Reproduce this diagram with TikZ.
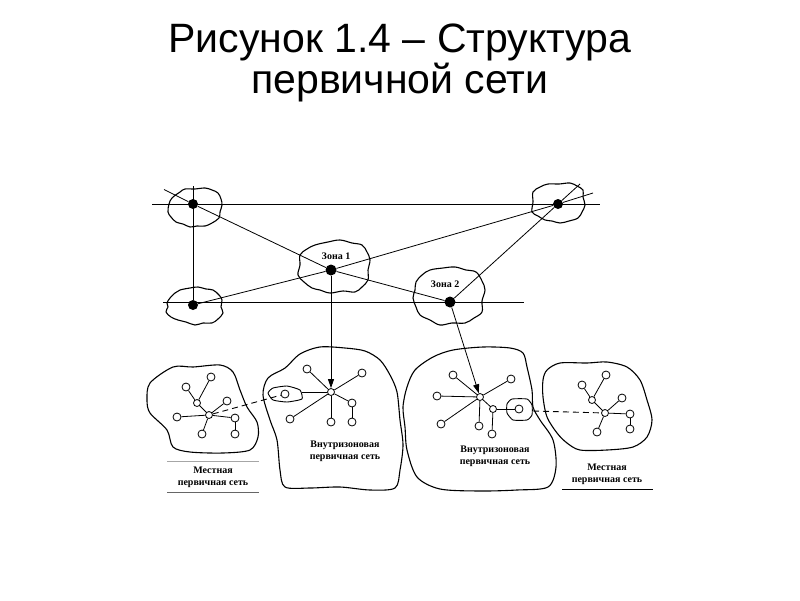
\documentclass[tikz,border=0pt]{standalone}
\usepackage{fontspec}
\setmainfont{Liberation Serif}
\newfontfamily\titlefont{Liberation Sans}
\usetikzlibrary{arrows.meta}
\begin{document}
\begin{tikzpicture}[x=1pt,y=-1pt,
  blob/.style={draw=black, line width=1.1pt, line join=round},
  bigdot/.style={circle, fill=black, inner sep=0pt, minimum size=10pt},
  leaf/.style={circle, draw=black, fill=white, line width=0.8pt, inner sep=0pt, minimum size=8pt},
  hub/.style={circle, draw=black, fill=white, line width=0.8pt, inner sep=0pt, minimum size=7pt},
  link/.style={line width=0.8pt},
  hline/.style={line width=0.9pt},
  dlink/.style={line width=0.9pt, dash pattern=on 6pt off 4pt},
  arr/.style={line width=0.8pt, -{Triangle[length=9pt,width=6pt]}},
  lbl/.style={font=\fontsize{10}{12.5}\selectfont\bfseries, inner sep=0pt, align=center},
  ttl/.style={font=\titlefont\fontsize{41}{41}\selectfont, inner sep=0pt, anchor=base}
]
\useasboundingbox (0,0) rectangle (800,600);

% title
\node[ttl] (t1) at (400,52) {Рисунок 1.4 – Структура};
\node[ttl] (t2) at (400,93) {первичной сети};

% ---------- upper level: blobs ----------
\draw[blob] plot[smooth cycle, tension=0.6] coordinates {(172,198) (180,192) (185,189) (195,189) (205,188) (212,190) (218,193) (221,199) (222,205) (220,212) (219,218) (212,223) (205,226) (197,226) (190,227) (183,224) (176,222) (171,217) (168,212) (169,204)};
\draw[blob] plot[smooth cycle, tension=0.6] coordinates {(170,298) (175,293) (180,290) (190,288) (198,287) (206,289) (213,290) (219,295) (222,300) (221,307) (223,313) (218,319) (212,323) (203,323) (195,325) (186,322) (178,320) (171,317) (166,312) (168,307) (167,303)};
\draw[blob] plot[smooth cycle, tension=0.6] coordinates {(300,255) (307,249) (315,245) (328,242) (340,240) (352,243) (362,245) (367,252) (370,260) (368,270) (368,280) (362,287) (355,292) (343,291) (330,293) (320,290) (312,288) (304,282) (298,275) (300,265)};
\draw[blob] plot[smooth cycle, tension=0.6] coordinates {(533,192) (540,187) (548,184) (559,184) (570,183) (577,186) (583,190) (583,197) (585,205) (582,212) (578,218) (569,221) (560,223) (552,221) (545,220) (538,216) (532,212) (533,202)};
\draw[blob] plot[smooth cycle, tension=0.6] coordinates {(416,282) (422,275) (430,270) (443,268) (455,267) (466,270) (476,272) (482,281) (485,290) (482,301) (482,312) (474,318) (465,323) (452,323) (440,325) (430,320) (420,315) (416,307) (413,298) (415,290)};

% upper level nodes
\node[bigdot] (A) at (193,204) {};
\node[bigdot] (B) at (193,305) {};
\node[bigdot, minimum size=11pt] (Z1) at (331,270) {};
\node[bigdot] (C) at (558,204) {};
\node[bigdot, minimum size=11pt] (Z2) at (450,302) {};

\node[lbl] (z1l) at (336,256) {Зона 1};
\node[lbl] (z2l) at (445,284) {Зона 2};

\coordinate (tl) at (152,204); \coordinate (tr) at (600,204);
\coordinate (ml) at (163,302); \coordinate (mr) at (524,302);
\coordinate (vt) at (193,186);
\coordinate (ae) at (164,189.5);
\coordinate (ce1) at (593,193);
\coordinate (ce2) at (580,184);

\draw[hline] (tl) -- (tr);
\draw[link] (ml) -- (mr);
\draw[link] (vt) -- (B);
\draw[link] (ae) -- (A);
\draw[link] (A) -- (Z1);
\draw[link] (Z1) -- (Z2);
\draw[link] (B) -- (Z1);
\draw[link] (Z1) -- (C);
\draw[link] (C) -- (ce1);
\draw[link] (Z2) -- (C);
\draw[link] (C) -- (ce2);

% ---------- lower level: blobs ----------
\draw[blob] plot[smooth cycle, tension=0.5] coordinates {(150,383) (173,367) (193,367) (220,365) (233,372) (240,390) (247,407) (257,422) (258,437) (250,450) (223,453) (190,452) (173,447) (167,430) (150,413) (147,400)};
\draw[blob] plot[smooth cycle, tension=0.5] coordinates {(263,395) (268,378) (285,368) (300,354) (320,347) (345,348) (365,351) (380,360) (390,375) (397,392) (400,420) (403,445) (400,470) (395,488) (370,490) (340,487) (310,488) (285,487) (280,470) (277,440) (270,420)};
\draw[blob] plot[smooth cycle, tension=0.5] coordinates {(407,387) (415,370) (433,357) (453,350) (483,347) (510,348) (523,353) (527,367) (532,390) (533,407) (540,420) (553,440) (556,467) (548,487) (517,490) (480,491) (440,489) (417,477) (407,450) (405,427) (403,407)};
\draw[blob] plot[smooth cycle, tension=0.5] coordinates {(543,380) (547,370) (560,363) (587,363) (607,362) (627,367) (640,380) (647,400) (652,420) (647,437) (633,447) (607,450) (580,450) (567,443) (557,433) (547,417) (543,397)};
\draw[blob, line width=0.9pt] plot[smooth cycle, tension=0.3] coordinates {(268,393) (273,388) (287,386) (300,390) (302,399) (287,402) (273,400)};
\draw[blob, line width=0.9pt] plot[smooth cycle, tension=0.3] coordinates {(507,404) (512,399) (527,399) (532,405) (532,415) (527,420) (513,420) (507,413)};

% left local network nodes
\node[hub] (hL) at (209,415) {};
\node[hub] (jL) at (197,403) {};
\node[leaf] (L1) at (211,377) {};
\node[leaf] (L2) at (186,387) {};
\node[leaf] (L3) at (227,401) {};
\node[leaf] (L4) at (177,417) {};
\node[leaf] (L5) at (202,434) {};
\node[leaf] (L6) at (235,418) {};
\node[leaf] (L7) at (235,434) {};
\draw[link] (jL) -- (L1);
\draw[link] (jL) -- (L2);
\draw[link] (hL) -- (jL);
\draw[link] (hL) -- (L3);
\draw[link] (hL) -- (L4);
\draw[link] (hL) -- (L5);
\draw[link] (hL) -- (L6);
\draw[link] (L6) -- (L7);

% intrazone 1 nodes
\node[hub] (h1) at (331,392) {};
\node[leaf] (M1) at (307,369) {};
\node[leaf] (M2) at (362,373) {};
\node[leaf] (M3) at (352,403) {};
\node[leaf] (M4) at (352,422) {};
\node[leaf] (M5) at (331,422) {};
\node[leaf] (M6) at (290,419) {};
\node[leaf] (M7) at (285,394) {};
\coordinate (sb1e) at (302,392);
\draw[link] (h1) -- (M1);
\draw[link] (h1) -- (M2);
\draw[link] (h1) -- (M3);
\draw[link] (M3) -- (M4);
\draw[link] (h1) -- (M5);
\draw[link] (h1) -- (M6);
\draw[link] (h1) -- (sb1e);
\draw[dlink] (hL) -- (M7);

% intrazone 2 nodes
\node[hub] (h2) at (480,397) {};
\node[hub] (j2) at (493,409) {};
\node[leaf] (N1) at (453,375) {};
\node[leaf] (N2) at (511,379) {};
\node[leaf] (N3) at (437,396) {};
\node[leaf] (N4) at (441,424) {};
\node[leaf] (N5) at (479,426) {};
\node[leaf] (N6) at (492,434) {};
\node[leaf] (N7) at (519,409) {};
\draw[link] (h2) -- (N1);
\draw[link] (h2) -- (N2);
\draw[link] (h2) -- (N3);
\draw[link] (h2) -- (N4);
\draw[link] (h2) -- (N5);
\draw[link] (h2) -- (j2);
\draw[link] (j2) -- (N6);
\draw[link] (j2) -- (N7);

% right local network nodes
\node[hub] (hR) at (605,413) {};
\node[hub] (jR) at (592,400) {};
\node[leaf] (R1) at (582,385) {};
\node[leaf] (R2) at (606,375) {};
\node[leaf] (R3) at (622,398) {};
\node[leaf] (R4) at (630,414) {};
\node[leaf] (R5) at (630,429) {};
\node[leaf] (R6) at (597,432) {};
\draw[link] (hR) -- (jR);
\draw[link] (jR) -- (R1);
\draw[link] (jR) -- (R2);
\draw[link] (hR) -- (R3);
\draw[link] (hR) -- (R4);
\draw[link] (R4) -- (R5);
\draw[link] (hR) -- (R6);
\coordinate (sb2e) at (533,411);
\draw[dlink] (sb2e) -- (hR);

% arrows from zones
\draw[arr] (Z1) -- (h1);
\draw[arr] (Z2) -- (h2);

% labels
\node[lbl] (lLab) at (213,477.5) {Местная\\первичная сеть};
\node[lbl] (iz1Lab) at (345,451.5) {Внутризоновая\\первичная сеть};
\node[lbl] (iz2Lab) at (495,456.5) {Внутризоновая\\первичная сеть};
\node[lbl] (rLab) at (607,474.5) {Местная\\первичная сеть};

\coordinate (lt1) at (167,461); \coordinate (lt2) at (259,461);
\coordinate (lb1) at (167,492); \coordinate (lb2) at (259,492);
\coordinate (rb1) at (562,489); \coordinate (rb2) at (653,489);
\draw[line width=0.5pt, black!35] (lt1) -- (lt2);
\draw[line width=0.7pt, black!60] (lb1) -- (lb2);
\draw[line width=0.8pt] (rb1) -- (rb2);
\end{tikzpicture}
\end{document}
